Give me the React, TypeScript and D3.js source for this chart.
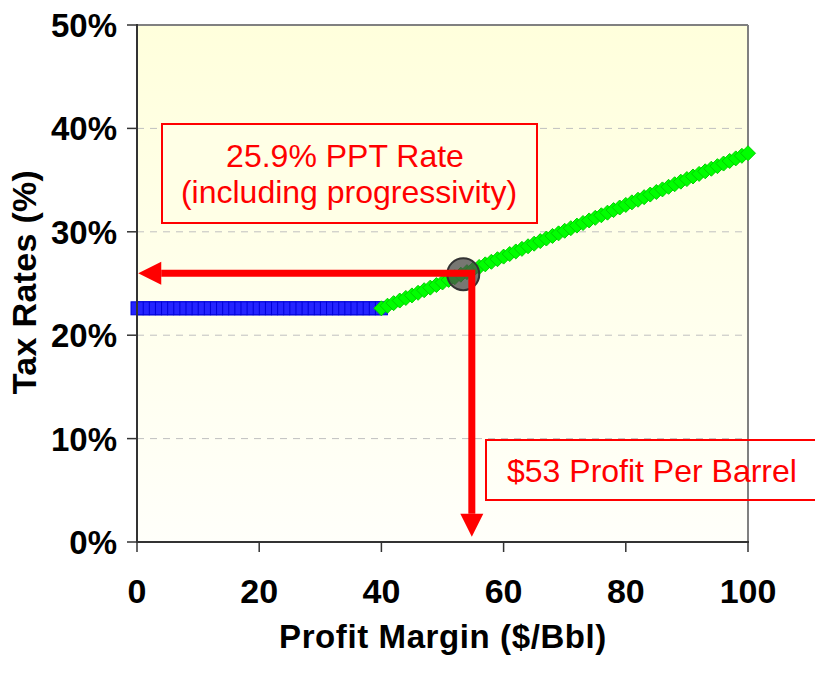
import React from "react";
import * as d3 from "d3";

const W = 815;
const H = 675;

const yTicks = [0, 10, 20, 30, 40, 50];
const xTicks = [0, 20, 40, 60, 80, 100];

const blueX = [0,1,2,3,4,5,6,7,8,9,10,11,12,13,14,15,16,17,18,19,20,21,22,23,24,25,26,27,28,29,30,31,32,33,34,35,36,37,38,39,40];
const blueY = [22.6,22.6,22.6,22.6,22.6,22.6,22.6,22.6,22.6,22.6,22.6,22.6,22.6,22.6,22.6,22.6,22.6,22.6,22.6,22.6,22.6,22.6,22.6,22.6,22.6,22.6,22.6,22.6,22.6,22.6,22.6,22.6,22.6,22.6,22.6,22.6,22.6,22.6,22.6,22.6,22.6];

const greenX = [40,41,42,43,44,45,46,47,48,49,50,51,52,53,54,55,56,57,58,59,60,61,62,63,64,65,66,67,68,69,70,71,72,73,74,75,76,77,78,79,80,81,82,83,84,85,86,87,88,89,90,91,92,93,94,95,96,97,98,99,100];
const greenY = [22.6,22.85,23.1,23.35,23.6,23.85,24.1,24.35,24.6,24.85,25.1,25.35,25.6,25.85,26.1,26.35,26.6,26.85,27.1,27.35,27.6,27.85,28.1,28.35,28.6,28.85,29.1,29.35,29.6,29.85,30.1,30.35,30.6,30.85,31.1,31.35,31.6,31.85,32.1,32.35,32.6,32.85,33.1,33.35,33.6,33.85,34.1,34.35,34.6,34.85,35.1,35.35,35.6,35.85,36.1,36.35,36.6,36.85,37.1,37.35,37.6];

const pointX = 53.4;
const pointY = 25.9;
const arrowX = 54.8;
const arrowYEnd = 0.5;
const arrowXEnd = 0.2;

const FONT = "'Liberation Sans', Arial, sans-serif";

export default function App() {
  const x = d3.scaleLinear().domain([0, 100]).range([137, 748]);
  const y = d3.scaleLinear().domain([0, 50]).range([542, 25]);

  const blue = blueX.map((v, i) => [v, blueY[i]]);
  const green = greenX.map((v, i) => [v, greenY[i]]);

  const ax = x(arrowX);
  const ay = y(pointY) - 1;
  const hTip = x(arrowXEnd);
  const vTip = y(arrowYEnd);
  const headLen = 23;
  const headHalf = 11.5;

  return (
    <svg width={W} height={H} style={{ position: "absolute", left: 0, top: 0, background: "#fff" }} fontFamily={FONT}>
      <defs>
        <linearGradient id="bg" x1="0" y1="0" x2="0" y2="1">
          <stop offset="0" stopColor="#FFFFDC" />
          <stop offset="1" stopColor="#FFFFFA" />
        </linearGradient>
      </defs>
      <rect x={x(0)} y={y(50)} width={x(100) - x(0)} height={y(0) - y(50)} fill="url(#bg)" />
      {yTicks.filter((t) => t > 0 && t < 50).map((t) => (
        <line key={t} x1={x(0)} x2={x(100)} y1={y(t)} y2={y(t)} stroke="#C0C0C0" strokeWidth={1} strokeDasharray="7,6" />
      ))}
      {/* frame */}
      <line x1={x(0)} x2={x(100)} y1={y(50)} y2={y(50)} stroke="#808080" strokeWidth={2} />
      <line x1={x(100)} x2={x(100)} y1={y(50)} y2={y(0)} stroke="#808080" strokeWidth={2} />
      {/* series */}
      {blue.map(([a, b], i) => (
        <rect key={"b" + i} x={x(a) - 6} y={y(b) - 6.5} width={12} height={13} fill="#2424FF" stroke="#0000D8" strokeWidth={1} />
      ))}
      {green.map(([a, b], i) => (
        <path key={"g" + i} d={`M${x(a)},${y(b) - 7.5}L${x(a) + 7.5},${y(b)}L${x(a)},${y(b) + 7.5}L${x(a) - 7.5},${y(b)}Z`} fill="#00FF00" stroke="#00D000" strokeWidth={1} />
      ))}
      {/* axes */}
      <line x1={x(0)} x2={x(0)} y1={y(50) - 1} y2={y(0) + 1} stroke="#333" strokeWidth={2} />
      <line x1={x(0) - 1} x2={x(100) + 1} y1={y(0)} y2={y(0)} stroke="#333" strokeWidth={2} />
      {yTicks.map((t) => (
        <g key={"yt" + t}>
          <line x1={x(0) - 10} x2={x(0)} y1={y(t)} y2={y(t)} stroke="#333" strokeWidth={1.5} />
          <text x={117} y={y(t) + 12} textAnchor="end" fontSize={33} fontWeight="bold" fill="#000">{t}%</text>
        </g>
      ))}
      {xTicks.map((t) => (
        <g key={"xt" + t}>
          <line x1={x(t)} x2={x(t)} y1={y(0)} y2={y(0) + 10} stroke="#333" strokeWidth={1.5} />
          <text x={x(t)} y={603} textAnchor="middle" fontSize={34} fontWeight="bold" fill="#000">{t}</text>
        </g>
      ))}
      <text x={443} y={648} textAnchor="middle" fontSize={33} fontWeight="bold" letterSpacing={0.6} fill="#000">Profit Margin ($/Bbl)</text>
      <text transform={`translate(36,282) rotate(-90)`} textAnchor="middle" fontSize={34} fontWeight="bold" letterSpacing={0.3} fill="#000">Tax Rates (%)</text>
      {/* highlighted point */}
      <circle cx={x(pointX)} cy={y(pointY)} r={16} fill="#4A4A4A" fillOpacity={0.75} stroke="#333" strokeWidth={2} />
      {/* arrows */}
      <path d={`M${hTip + headLen},${ay}L${ax},${ay}L${ax},${vTip - headLen}`} fill="none" stroke="#FF0000" strokeWidth={7} strokeLinejoin="miter" />
      <path d={`M${hTip},${ay}L${hTip + headLen},${ay - headHalf}L${hTip + headLen},${ay + headHalf}Z`} fill="#FF0000" />
      <path d={`M${ax},${vTip}L${ax - headHalf},${vTip - headLen}L${ax + headHalf},${vTip - headLen}Z`} fill="#FF0000" />
      {/* annotation boxes */}
      <rect x={162} y={124} width={375} height={99} fill="#FFFFE6" stroke="#FF0000" strokeWidth={2} />
      <text x={345} y={167} textAnchor="middle" fontSize={32} fill="#FF0000">25.9% PPT Rate</text>
      <text x={349} y={203} textAnchor="middle" fontSize={32} fill="#FF0000">(including progressivity)</text>
      <rect x={486} y={440} width={335} height={60} fill="none" stroke="#FF0000" strokeWidth={2} />
      <text x={507} y={482} textAnchor="start" fontSize={32} fill="#FF0000">$53 Profit Per Barrel</text>
    </svg>
  );
}
